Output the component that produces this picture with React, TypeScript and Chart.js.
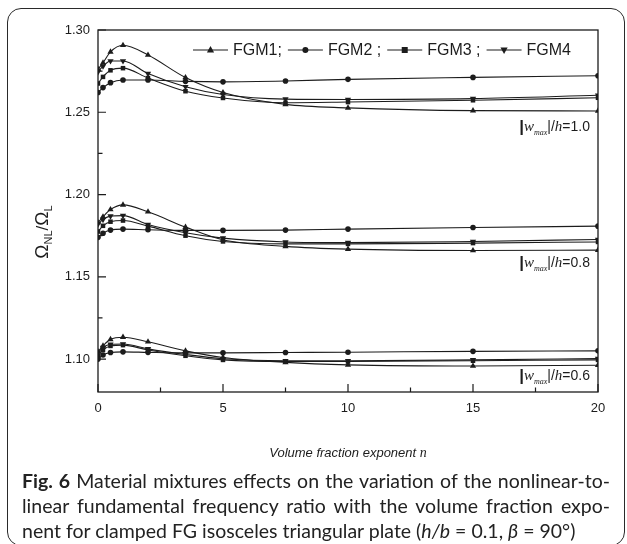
import React, { useEffect, useRef } from "react";
import { Chart, registerables } from "chart.js";

Chart.register(...registerables);

// Volume fraction exponent n (x positions of the computed points)
const nValues = [0, 0.2, 0.5, 1, 2, 3.5, 5, 7.5, 10, 15, 20];

// |w_max|/h = 1.0
const fgm1W10 = [1.2762, 1.28, 1.2867, 1.2907, 1.2848, 1.2711, 1.262, 1.2548, 1.2527, 1.251, 1.2508];
const fgm2W10 = [1.262, 1.265, 1.268, 1.2696, 1.2696, 1.2688, 1.2685, 1.269, 1.27, 1.2712, 1.2722];
const fgm3W10 = [1.2675, 1.2715, 1.2755, 1.2768, 1.2708, 1.2628, 1.2587, 1.2558, 1.2562, 1.2573, 1.2588];
const fgm4W10 = [1.2745, 1.278, 1.2812, 1.2812, 1.2735, 1.2655, 1.2608, 1.258, 1.2578, 1.2583, 1.2603];

// |w_max|/h = 0.8
const fgm1W08 = [1.183, 1.1865, 1.1909, 1.1937, 1.1895, 1.1802, 1.1725, 1.1685, 1.1668, 1.166, 1.1662];
const fgm2W08 = [1.174, 1.1765, 1.1784, 1.179, 1.1786, 1.1782, 1.1782, 1.1784, 1.179, 1.18, 1.1808];
const fgm3W08 = [1.1775, 1.181, 1.1835, 1.1842, 1.1808, 1.175, 1.1715, 1.17, 1.17, 1.1705, 1.1712];
const fgm4W08 = [1.182, 1.1848, 1.1869, 1.1872, 1.1818, 1.1768, 1.1735, 1.1712, 1.1708, 1.1715, 1.1727];

// |w_max|/h = 0.6
const fgm1W06 = [1.1045, 1.108, 1.112, 1.1133, 1.1105, 1.105, 1.101, 1.098, 1.0965, 1.0958, 1.0963];
const fgm2W06 = [1.1, 1.1025, 1.104, 1.1044, 1.1041, 1.1038, 1.1038, 1.104, 1.1042, 1.1047, 1.105];
const fgm3W06 = [1.102, 1.1055, 1.108, 1.1085, 1.1055, 1.102, 1.0995, 1.0985, 1.0985, 1.099, 1.0995];
const fgm4W06 = [1.104, 1.107, 1.109, 1.1092, 1.1062, 1.1028, 1.1002, 1.099, 1.099, 1.0995, 1.1003];

const seriesNames = ["FGM1", "FGM2", "FGM3", "FGM4"];
const legendTexts = ["FGM1;", "FGM2 ;", "FGM3 ;", "FGM4"];
const amplitudeLabels = ["1.0", "0.8", "0.6"];
// baseline level (in ratio units) of each amplitude annotation
const amplitudeLabelValues = [1.2385, 1.156, 1.0872];

const groups = [
  [fgm1W10, fgm2W10, fgm3W10, fgm4W10],
  [fgm1W08, fgm2W08, fgm3W08, fgm4W08],
  [fgm1W06, fgm2W06, fgm3W06, fgm4W06],
];

const xTicks = [0, 5, 10, 15, 20];
const xMinorTicks = [2.5, 7.5, 12.5, 17.5];
const yTicks = [1.1, 1.15, 1.2, 1.25, 1.3];
const yMinorTicks = [1.125, 1.175, 1.225, 1.275];

type Marker = "triangle" | "circle" | "rect" | "invTriangle";
const markers: Marker[] = ["triangle", "circle", "rect", "invTriangle"];

const INK = "#1c1c1c";
const SANS = "'Liberation Sans', Arial, Helvetica, sans-serif";
const SERIF = "'Liberation Serif', 'Times New Roman', serif";

function drawMarker(ctx: CanvasRenderingContext2D, kind: Marker, x: number, y: number) {
  ctx.save();
  ctx.fillStyle = INK;
  ctx.beginPath();
  if (kind === "circle") {
    ctx.arc(x, y, 3, 0, Math.PI * 2);
  } else if (kind === "rect") {
    ctx.rect(x - 3, y - 3, 6, 6);
  } else if (kind === "triangle") {
    ctx.moveTo(x, y - 4);
    ctx.lineTo(x + 3.6, y + 2.6);
    ctx.lineTo(x - 3.6, y + 2.6);
  } else {
    ctx.moveTo(x, y + 4);
    ctx.lineTo(x + 3.6, y - 2.6);
    ctx.lineTo(x - 3.6, y - 2.6);
  }
  ctx.closePath();
  ctx.fill();
  ctx.restore();
}

// Draws the "|w_max|/h=value" annotation, right-aligned at rightX
function drawAmplitudeLabel(ctx: CanvasRenderingContext2D, rightX: number, baseline: number, value: string) {
  const parts: { t: string; f: string; dy: number }[] = [
    { t: "|", f: `bold 17px ${SANS}`, dy: 1 },
    { t: "w", f: `italic 15px ${SERIF}`, dy: 0 },
    { t: "max", f: `italic 8px ${SERIF}`, dy: 4 },
    { t: "|", f: `14px ${SANS}`, dy: 0 },
    { t: "/", f: `14px ${SANS}`, dy: 0 },
    { t: "h", f: `italic 15px ${SERIF}`, dy: 0 },
    { t: "=" + value, f: `14px ${SANS}`, dy: 0 },
  ];
  ctx.save();
  ctx.fillStyle = INK;
  ctx.textBaseline = "alphabetic";
  ctx.textAlign = "left";
  let total = 0;
  const widths = parts.map((p) => {
    ctx.font = p.f;
    const w = ctx.measureText(p.t).width;
    total += w;
    return w;
  });
  let x = rightX - total;
  parts.forEach((p, i) => {
    ctx.font = p.f;
    ctx.fillText(p.t, x, baseline + p.dy);
    x += widths[i];
  });
  ctx.restore();
}

const framePlugin = {
  id: "frameAndNotes",
  afterDraw(chart: any) {
    const { ctx, chartArea } = chart;
    const xs = chart.scales.x;
    const ys = chart.scales.y;
    const { left, right, top, bottom } = chartArea;

    ctx.save();
    // plot frame
    ctx.strokeStyle = INK;
    ctx.lineWidth = 1.3;
    ctx.strokeRect(left, top, right - left, bottom - top);

    // inward ticks
    ctx.lineWidth = 1.2;
    ctx.beginPath();
    xTicks.forEach((v) => {
      const px = xs.getPixelForValue(v);
      ctx.moveTo(px, bottom);
      ctx.lineTo(px, bottom - 8);
    });
    xMinorTicks.forEach((v) => {
      const px = xs.getPixelForValue(v);
      ctx.moveTo(px, bottom);
      ctx.lineTo(px, bottom - 4.5);
    });
    yTicks.forEach((v) => {
      const py = ys.getPixelForValue(v);
      ctx.moveTo(left, py);
      ctx.lineTo(left + 8, py);
    });
    yMinorTicks.forEach((v) => {
      const py = ys.getPixelForValue(v);
      ctx.moveTo(left, py);
      ctx.lineTo(left + 4.5, py);
    });
    ctx.stroke();

    // legend row
    ctx.font = `16px ${SANS}`;
    ctx.textBaseline = "middle";
    ctx.textAlign = "left";
    ctx.fillStyle = INK;
    let lx = 193;
    const ly = 50;
    legendTexts.forEach((txt, i) => {
      ctx.beginPath();
      ctx.lineWidth = 1.1;
      ctx.moveTo(lx, ly);
      ctx.lineTo(lx + 35, ly);
      ctx.stroke();
      drawMarker(ctx, markers[i], lx + 17.5, ly);
      ctx.fillText(txt, lx + 40, ly + 1);
      lx = lx + 40 + ctx.measureText(txt).width + 6;
    });

    // amplitude annotations
    amplitudeLabels.forEach((lab, i) => {
      drawAmplitudeLabel(ctx, right - 8, ys.getPixelForValue(amplitudeLabelValues[i]), lab);
    });

    // x axis title
    ctx.textBaseline = "alphabetic";
    const t1 = "Volume fraction exponent ";
    const t2 = "n";
    ctx.font = `italic 13px ${SANS}`;
    const w1 = ctx.measureText(t1).width;
    ctx.font = `italic 14px ${SERIF}`;
    const w2 = ctx.measureText(t2).width;
    const cx = (left + right) / 2;
    const tx = cx - (w1 + w2) / 2;
    ctx.font = `italic 13px ${SANS}`;
    ctx.fillText(t1, tx, 457);
    ctx.font = `italic 14px ${SERIF}`;
    ctx.fillText(t2, tx + w1, 457);

    // y axis title, rotated
    ctx.translate(48, 232);
    ctx.rotate(-Math.PI / 2);
    const yParts: { t: string; f: string; dy: number }[] = [
      { t: "\u03A9", f: `19px ${SANS}`, dy: 0 },
      { t: "NL", f: `11px ${SANS}`, dy: 4 },
      { t: "/", f: `17px ${SANS}`, dy: 0 },
      { t: "\u03A9", f: `19px ${SANS}`, dy: 0 },
      { t: "L", f: `11px ${SANS}`, dy: 4 },
    ];
    let tot = 0;
    const ws = yParts.map((p) => {
      ctx.font = p.f;
      const w = ctx.measureText(p.t).width;
      tot += w;
      return w;
    });
    let yx = -tot / 2;
    yParts.forEach((p, i) => {
      ctx.font = p.f;
      ctx.fillText(p.t, yx, p.dy);
      yx += ws[i];
    });
    ctx.restore();
  },
};

function ChartView() {
  const ref = useRef<HTMLCanvasElement | null>(null);

  useEffect(() => {
    if (!ref.current) return;
    const datasets: any[] = [];
    groups.forEach((group, g) => {
      group.forEach((vals, s) => {
        const kind = markers[s];
        datasets.push({
          label: `${seriesNames[s]} (${amplitudeLabels[g]})`,
          data: nValues.map((n, i) => ({ x: n, y: vals[i] })),
          borderColor: INK,
          backgroundColor: INK,
          borderWidth: 1.1,
          pointBackgroundColor: INK,
          pointBorderColor: INK,
          pointBorderWidth: 0,
          pointStyle: kind === "circle" ? "circle" : kind === "rect" ? "rect" : "triangle",
          pointRotation: kind === "invTriangle" ? 180 : 0,
          pointRadius: kind === "circle" ? 2.8 : kind === "rect" ? 3.2 : 3.6,
          cubicInterpolationMode: "monotone",
          fill: false,
        });
      });
    });

    const chart = new Chart(ref.current, {
      type: "line",
      data: { datasets },
      options: {
        animation: false,
        responsive: false,
        maintainAspectRatio: false,
        layout: { padding: { left: 0, right: 29, top: 30, bottom: 0 } },
        plugins: { legend: { display: false }, tooltip: { enabled: false } },
        scales: {
          x: {
            type: "linear",
            min: 0,
            max: 20,
            grid: { display: false, drawTicks: false },
            border: { display: false },
            afterBuildTicks: (scale: any) => {
              scale.ticks = xTicks.map((v) => ({ value: v }));
            },
            afterFit: (scale: any) => {
              scale.height = 78;
            },
            ticks: {
              padding: 9,
              maxRotation: 0,
              color: INK,
              font: { family: SANS, size: 13 },
              callback: (v: any) => String(v),
            },
          },
          y: {
            type: "linear",
            min: 1.08,
            max: 1.3,
            grid: { display: false, drawTicks: false },
            border: { display: false },
            afterBuildTicks: (scale: any) => {
              scale.ticks = yTicks.map((v) => ({ value: v }));
            },
            afterFit: (scale: any) => {
              scale.width = 98;
            },
            ticks: {
              padding: 8,
              color: INK,
              font: { family: SANS, size: 13 },
              callback: (v: any) => Number(v).toFixed(2),
            },
          },
        },
      },
      plugins: [framePlugin],
    });
    return () => chart.destroy();
  }, []);

  return <canvas ref={ref} width={627} height={470} style={{ position: "absolute", left: 0, top: 0 }} />;
}

export default function App() {
  const lineStyle: React.CSSProperties = {
    textAlign: "justify",
    textAlignLast: "justify" as any,
    height: 25,
  };
  return (
    <div
      style={{
        position: "fixed",
        left: 0,
        top: 0,
        width: 627,
        height: 544,
        overflow: "hidden",
        background: "#fff",
      }}
    >
      <div
        style={{
          position: "absolute",
          left: 7,
          top: 8,
          width: 616,
          height: 536,
          border: "1.5px solid #2a2a2a",
          borderRadius: 14,
        }}
      />
      <ChartView />
      <div
        style={{
          position: "absolute",
          left: 22,
          top: 468,
          width: 588,
          fontFamily: "Lato, 'Noto Sans', sans-serif",
          fontSize: 19.5,
          lineHeight: "25px",
          color: "#222",
        }}
      >
        <div style={lineStyle}>
          <b>Fig. 6</b> Material mixtures effects on the variation of the nonlinear-to-
        </div>
        <div style={lineStyle}>linear fundamental frequency ratio with the volume fraction expo-</div>
        <div style={{ whiteSpace: "nowrap" }}>
          nent for clamped FG isosceles triangular plate (<i>h/b</i> = 0.1, <i>β</i> = 90°)
        </div>
      </div>
    </div>
  );
}
